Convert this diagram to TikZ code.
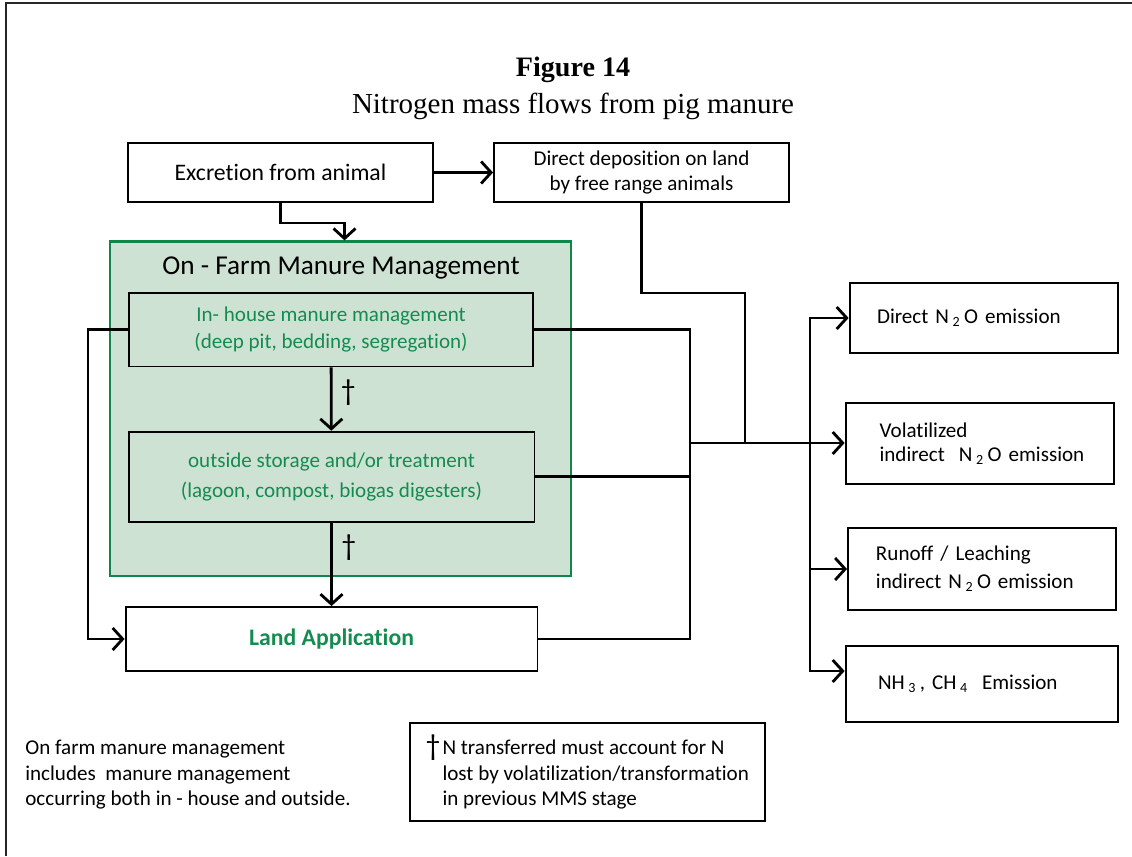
\documentclass[tikz,border=0pt]{standalone}
\usepackage{fontspec}
\setmainfont{Carlito}[Ligatures={NoCommon,NoContextual}]
\newfontfamily\titlefont{Liberation Serif}
\usepackage{tikz}
\usetikzlibrary{positioning,arrows.meta}
\definecolor{farmfill}{RGB}{206,226,212}
\definecolor{farmtext}{RGB}{20,140,80}
\definecolor{farmedge}{RGB}{15,135,75}
\newcommand{\ntwoo}{N\,\textsubscript{2}\,O}
\newcommand{\dagsym}{{\fontsize{17}{17}\selectfont\textdagger}}

\begin{document}
\begin{tikzpicture}[x=0.02cm, y=-0.02cm,
  main node/.style={draw, line width=1.1pt, inner sep=0pt, align=center, font=\fontsize{12}{15}\selectfont},
  green node/.style={main node, fill=farmfill, text=farmtext},
  out node/.style={main node, align=left, text width=5.37cm},
  link/.style={line width=1.6pt},
  flow/.style={link, -{Straight Barb[length=2mm,width=4.4mm,line width=1.6pt]}}]
  \useasboundingbox (0,0) rectangle (1132,856);
  \draw[line width=1.3pt, black!85] (6,856) -- (6,3) -- (1132,3);

  \node[font=\titlefont\fontsize{16}{18}\selectfont\bfseries] (fig) at (573,70) {Figure 14};
  \node[font=\titlefont\fontsize{16.5}{18}\selectfont] (sub) [below of=fig, node distance=0.72cm] {Nitrogen mass flows from pig manure};

  \node[main node, minimum width=6.1cm, minimum height=1.18cm, font=\fontsize{13.5}{15}\selectfont] (excr) at (280.5,172.5) {Excretion from animal};
  \node[main node, minimum width=5.9cm, minimum height=1.18cm, font=\fontsize{12}{14.2}\selectfont] (depo) at (641.5,172.5) {Direct deposition on land\\by free range animals};

  \node[draw=farmedge, line width=1.3pt, fill=farmfill, minimum width=9.22cm, minimum height=6.69cm] (farm) at (340.5,408.75) {};
  \node[green node, font=\fontsize{12}{15.3}\selectfont, minimum width=8.08cm, minimum height=1.47cm] (house) at (331,329.75) {In- house manure management\\(deep pit, bedding, segregation)};
  \node[font=\fontsize{15.5}{18}\selectfont] (farmlabel) [above of=house, node distance=1.235cm, xshift=0.2cm] {On - Farm Manure Management};
  \node[green node, font=\fontsize{12}{17}\selectfont, minimum width=8.12cm, minimum height=1.806cm] (outside) at (331.5,476.85) {outside storage and/or treatment\\(lagoon, compost, biogas digesters)};
  \node[main node, minimum width=8.24cm, minimum height=1.28cm, text=farmtext, font=\fontsize{13.5}{15}\selectfont\bfseries] (land) at (331.5,639) {Land Application};

  \node[out node, minimum height=1.4cm] (direct) at (983.8,318) {\hspace*{0.55cm}Direct \ntwoo\ emission};
  \node[out node, minimum height=1.62cm, font=\fontsize{12}{13.5}\selectfont] (volat) at (979.8,443.5) {\hspace*{0.68cm}Volatilized\\\hspace*{0.68cm}indirect\ \ \ntwoo\ emission};
  \node[out node, minimum height=1.64cm, font=\fontsize{12}{16}\selectfont] (runoff) at (982.2,569) {\hspace*{0.56cm}Runoff / Leaching\\\hspace*{0.56cm}indirect \ntwoo\ emission};
  \node[out node, minimum height=1.52cm, text width=5.45cm] (nh3) at (981.8,684) {\hspace*{0.65cm}NH\,\textsubscript{3}\,, CH\,\textsubscript{4}\ \ Emission};

  \node[anchor=north west, inner sep=0pt, align=left, font=\fontsize{12}{14.5}\selectfont] (remark) at (25,740) {On farm manure management\\includes\ \ manure management\\occurring both in - house and outside.};
  \node[main node, align=left, minimum width=7.11cm, minimum height=1.96cm, font=\fontsize{12}{14.5}\selectfont] (note) at (587.25,772) {\makebox[0.34cm][l]{\raisebox{-0.5pt}{\dagsym}}N transferred must account for N\\\hspace*{0.34cm}lost by volatilization/transformation\\\hspace*{0.34cm}in previous MMS stage};

  \coordinate (split) at (690,443);
  \coordinate (join) at (745,443);
  \coordinate (bus) at (810,443);

  \draw[flow] (excr) -- (depo);
  \draw[flow] (excr.south) -- ++(0,20) -| ([xshift=0.08cm]farm.north);
  \draw[flow] (house) -- node[right, pos=0.4, xshift=0.05cm] {\dagsym} (outside);
  \draw[flow] (outside) -- node[right, pos=0.3, xshift=0.05cm] {\dagsym} (land);
  \draw[flow] (house.west) -- ++(-40,0) |- (land.west);
  \draw[link] (depo.south) -- ++(0,90) -| (join);
  \draw[link] (house.east) -| (split);
  \draw[link] (outside.east) -- (outside.east -| split);
  \draw[link] (land.east) -| (split);
  \draw[flow] (split) -- (volat.west |- split);
  \draw[flow] (bus) |- (direct.west);
  \draw[flow] (bus) |- (runoff.west);
  \draw[flow] (bus) |- ([yshift=0.26cm]nh3.west);
\end{tikzpicture}
\end{document}
